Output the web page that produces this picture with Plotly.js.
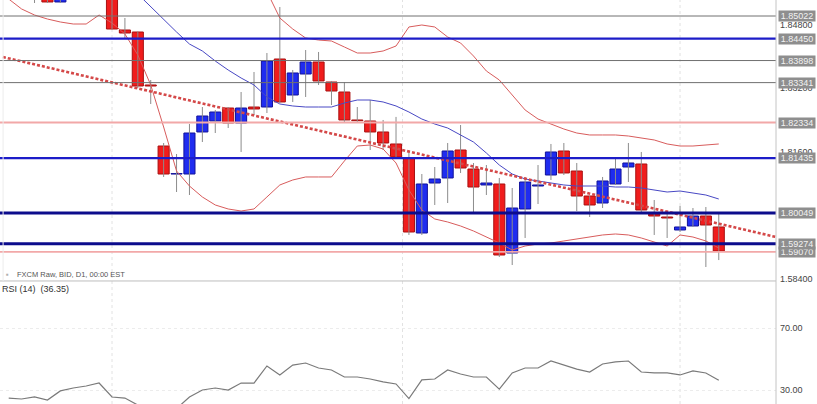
<!DOCTYPE html>
<html>
<head>
<meta charset="utf-8">
<script src="https://cdn.plot.ly/plotly-3.0.1.min.js"></script>
<style>
html,body{margin:0;padding:0;background:#fff;}
#chart{width:817px;height:404px;}
</style>
</head>
<body>
<div id="chart"></div>
<script>
// ---- data ----
const candleDays = [-6,-5,-4,0,1,2,3,4,5,6,7,8,9,10,11,12,13,14,15,16,17,18,19,20,21,22,23,24,25,26,27,28,29,30,31,32,33,34,35,36,37,38,39,40,41,42,43,44,45,46,47];
const openP  = [1.85552,1.85931,1.85376,1.85678,1.84669,1.84618,1.83281,1.81741,1.81034,1.81034,1.82095,1.82372,1.82700,1.82322,1.82725,1.82725,1.83937,1.83028,1.83558,1.83861,1.83356,1.83104,1.82398,1.82372,1.82095,1.81792,1.81438,1.79545,1.80807,1.80934,1.81640,1.81160,1.80757,1.80782,1.79040,1.80151,1.80731,1.81009,1.81615,1.81110,1.80479,1.80302,1.80782,1.81211,1.81287,1.80025,1.79949,1.79621,1.79722,1.79974,1.79697];
const highP  = [1.85950,1.86057,1.85900,1.85800,1.84972,1.84630,1.83407,1.81817,1.81539,1.82296,1.82725,1.82650,1.82725,1.83104,1.83609,1.84088,1.85249,1.83660,1.84164,1.84114,1.83382,1.83356,1.82725,1.82902,1.82398,1.82475,1.81590,1.81034,1.81211,1.81817,1.82271,1.81312,1.81261,1.80934,1.80681,1.80959,1.81261,1.81792,1.81817,1.81312,1.80479,1.80959,1.81463,1.81817,1.81590,1.80378,1.80050,1.80227,1.80176,1.80201,1.80025];
const lowP   = [1.85350,1.85350,1.85350,1.84680,1.84467,1.83200,1.82801,1.80959,1.80580,1.80504,1.81842,1.82069,1.82195,1.81590,1.82523,1.82574,1.82826,1.82852,1.82978,1.83281,1.82776,1.82347,1.82347,1.81640,1.81640,1.81438,1.79495,1.79495,1.80252,1.80302,1.81060,1.80075,1.80504,1.78939,1.78737,1.79419,1.80277,1.80883,1.81009,1.80100,1.79949,1.80176,1.80757,1.80832,1.80075,1.79495,1.79419,1.79570,1.79697,1.78687,1.78862];
const closeP = [1.85880,1.85376,1.85805,1.84694,1.84593,1.83255,1.83255,1.81034,1.81044,1.82069,1.82498,1.82599,1.82322,1.82700,1.82675,1.83886,1.82852,1.83584,1.83861,1.83382,1.83129,1.82398,1.82380,1.82095,1.81817,1.81463,1.79570,1.80782,1.80908,1.81615,1.81186,1.80706,1.80807,1.78990,1.80176,1.80832,1.80757,1.81590,1.81060,1.80479,1.80252,1.80858,1.81160,1.81312,1.80126,1.79974,1.79924,1.79697,1.79974,1.79747,1.79091];

const days = [-8,-7,-6,-5,-4,-3,-2,-1,0,1,2,3,4,5,6,7,8,9,10,11,12,13,14,15,16,17,18,19,20,21,22,23,24,25,26,27,28,29,30,31,32,33,34,35,36,37,38,39,40,41,42,43,44,45,46,47];
const bandLower = [1.85451,1.85199,1.85047,1.84946,1.84871,1.84820,1.84820,1.85047,1.84846,1.84568,1.84038,1.83281,1.82221,1.81110,1.80731,1.80454,1.80252,1.80151,1.80100,1.80151,1.80454,1.80757,1.80883,1.80959,1.80959,1.80959,1.81362,1.81741,1.81766,1.81665,1.81312,1.80630,1.80126,1.79899,1.79823,1.79722,1.79596,1.79444,1.79293,1.79116,1.79217,1.79268,1.79293,1.79344,1.79394,1.79444,1.79495,1.79520,1.79495,1.79419,1.79318,1.79217,1.79495,1.79444,1.79344,1.79167];
const bandUpper = [null,null,null,null,null,null,null,null,null,null,null,null,null,null,null,null,null,null,null,1.86309,1.85628,1.84972,1.84694,1.84467,1.84416,1.84391,1.84240,1.84088,1.84088,1.84139,1.84265,1.84745,1.84795,1.84745,1.84492,1.84341,1.84013,1.83634,1.83407,1.83028,1.82650,1.82422,1.82296,1.82170,1.82069,1.82019,1.82019,1.82019,1.81993,1.81943,1.81893,1.81792,1.81741,1.81741,1.81766,1.81792];
const bandMid = [null,null,null,null,null,null,null,null,null,null,1.85577,1.85249,1.84921,1.84618,1.84315,1.84139,1.83886,1.83659,1.83457,1.83281,1.82978,1.82801,1.82751,1.82725,1.82725,1.82725,1.82826,1.82902,1.82902,1.82852,1.82751,1.82599,1.82422,1.82296,1.82195,1.82019,1.81842,1.81564,1.81261,1.81034,1.80908,1.80858,1.80807,1.80757,1.80731,1.80731,1.80731,1.80706,1.80706,1.80681,1.80630,1.80580,1.80605,1.80555,1.80504,1.80403];
const rsi = [24.8,24.2,25.5,23.5,29.4,31.3,32.6,34.5,25.5,24.8,20.3,18.0,16.5,18.0,25.5,30.0,31.3,30.0,34.5,34.5,45.5,39.7,46.1,47.4,44.2,42.9,38.4,38.4,37.1,35.2,33.9,24.5,36.5,37.1,42.9,40.3,38.4,38.4,30.6,41.0,44.2,44.2,48.7,46.1,43.5,41.6,46.8,48.1,48.7,41.6,41.0,41.0,39.7,42.3,41.0,36.35];

const trendDays = [-8.45, 51.43];
const trendPrices = [1.83987, 1.79444];

const levelPrices = [1.85022,1.84450,1.83898,1.83341,1.82334,1.81435,1.80049,1.79070,1.79274];
const levelLabels = ['1.85022','1.84450','1.83898','1.83341','1.82334','1.81435','1.80049','1.59070','1.59274'];
const levelKinds  = ['gray','blue','gray','gray','pink','blue','navy','pink','navy'];

const priceTicks = [1.848,1.832,1.816,1.784];
const priceTickText = ['1.84800','1.83200','1.81600','1.58400'];
const rsiTicks = [70,30];
const rsiTickText = ['70.00','30.00'];
const monthDividers = [0, 22.5, 44];

// ---- build ----
const FONT = 'Liberation Sans, Arial, sans-serif';
const wx = [], wy = [];
candleDays.forEach((d,i)=>{ wx.push(d,d,null); wy.push(lowP[i],highP[i],null); });
const bodyBase = candleDays.map((d,i)=>Math.min(openP[i],closeP[i]));
const bodyLen = candleDays.map((d,i)=>Math.max(Math.abs(closeP[i]-openP[i]),0.00004));
const isUp = candleDays.map((d,i)=>closeP[i]>=openP[i]);

const traces = [
  {type:'scatter',mode:'lines',x:wx,y:wy,line:{color:'#8c8c8c',width:1},hoverinfo:'skip',xaxis:'x',yaxis:'y'},
  {type:'bar',x:candleDays,y:bodyLen,base:bodyBase,width:0.86,
   marker:{color:isUp.map(u=>u?'#1f2cf0':'#f01c1c'),line:{color:isUp.map(u=>u?'#12129a':'#a81010'),width:1}},
   hoverinfo:'skip',xaxis:'x',yaxis:'y'},
  {type:'scatter',mode:'lines',x:days,y:bandUpper,line:{color:'#d85c5c',width:1},hoverinfo:'skip',xaxis:'x',yaxis:'y'},
  {type:'scatter',mode:'lines',x:days,y:bandLower,line:{color:'#d85c5c',width:1},hoverinfo:'skip',xaxis:'x',yaxis:'y'},
  {type:'scatter',mode:'lines',x:days,y:bandMid,line:{color:'#4848c4',width:1},hoverinfo:'skip',xaxis:'x',yaxis:'y'},
  {type:'scatter',mode:'lines',x:trendDays,y:trendPrices,line:{color:'#d44848',width:2.6,dash:'3px,2px'},hoverinfo:'skip',xaxis:'x',yaxis:'y'},
  {type:'scatter',mode:'lines',x:days,y:rsi,line:{color:'#7a7a7a',width:1.2},hoverinfo:'skip',xaxis:'x',yaxis:'y2'}
];

const styleOf = {
  gray:{color:'#707070',width:1},
  blue:{color:'#1c1cc8',width:2.2},
  navy:{color:'#0c0c8c',width:3},
  pink:{color:'#f2a8a8',width:1.8}
};
const shapes = [];
monthDividers.forEach(d=>shapes.push({type:'line',xref:'x',yref:'paper',x0:d,x1:d,y0:0,y1:1,line:{color:'#e2e2e2',width:1,dash:'dot'},layer:'below'}));
levelPrices.forEach((p,i)=>shapes.push({type:'line',xref:'paper',yref:'y',x0:0,x1:1,y0:p,y1:p,line:styleOf[levelKinds[i]],layer:'above'}));
shapes.push({type:'line',xref:'paper',yref:'paper',x0:0,x1:1,y0:0.3045,y1:0.3045,line:{color:'#bdbdbd',width:1}});
shapes.push({type:'line',xref:'paper',yref:'paper',x0:1,x1:1,y0:0,y1:1,line:{color:'#c4c4c4',width:1}});
shapes.push({type:'line',xref:'paper',yref:'paper',x0:0.004,x1:0.004,y0:0.3045,y1:1,line:{color:'#ececec',width:1}});

const annotations = levelPrices.map((p,i)=>({
  xref:'paper',yref:'y',x:1,y:p,xanchor:'left',yanchor:'middle',xshift:2,
  text:levelLabels[i],showarrow:false,bgcolor:'#8e8e8e',borderpad:0,width:36,height:10,
  font:{family:FONT,size:9,color:'#f2f2f2'}
}));
annotations.push({xref:'paper',yref:'paper',x:15/776,y:1-274/404,xanchor:'left',yanchor:'middle',showarrow:false,
  text:'FXCM Raw, BID, D1, 00:00 EST',font:{family:FONT,size:7.5,color:'#555'}});
annotations.push({xref:'paper',yref:'paper',x:4/776,y:1-274/404,xanchor:'left',yanchor:'middle',showarrow:false,
  text:'▪',font:{family:FONT,size:8,color:'#b0b0b0'}});
annotations.push({xref:'paper',yref:'paper',x:0,y:1-289/404,xanchor:'left',yanchor:'middle',showarrow:false,
  text:'RSI (14)&nbsp;&nbsp;(36.35)',font:{family:FONT,size:9,color:'#333'}});

const layout = {
  width:817,height:404,
  margin:{l:0,r:41,t:0,b:0,pad:0},
  paper_bgcolor:'#fff',plot_bgcolor:'#fff',
  showlegend:false,
  xaxis:{range:[-8.675,51.433],showticklabels:false,showgrid:false,zeroline:false,showline:false,ticks:'',fixedrange:true},
  yaxis:{domain:[0.3045,1],range:[1.78334,1.85426],side:'right',tickvals:priceTicks,ticktext:priceTickText,
    tickfont:{family:FONT,size:9,color:'#444'},showgrid:false,zeroline:false,showline:false,ticks:'',ticklabelstandoff:3},
  yaxis2:{domain:[0,0.302],range:[20.97,99.68],side:'right',tickvals:rsiTicks,ticktext:rsiTickText,
    tickfont:{family:FONT,size:9,color:'#444'},showgrid:true,gridcolor:'#ececec',griddash:'dot',zeroline:false,showline:false,ticks:'',ticklabelstandoff:3},
  shapes:shapes,
  annotations:annotations,
  bargap:0
};
Plotly.newPlot('chart',traces,layout,{staticPlot:true,displayModeBar:false});
</script>
</body>
</html>
